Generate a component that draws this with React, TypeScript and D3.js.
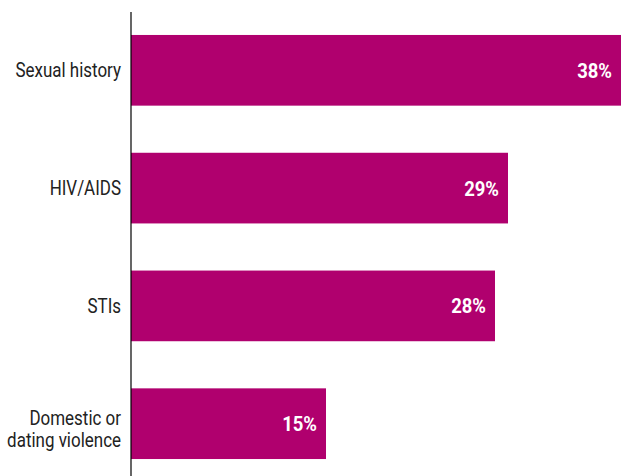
import React from "react";
import * as d3 from "d3";

const categories = ["Sexual history", "HIV/AIDS", "STIs", "Domestic or\ndating violence"];
const values = [38, 29, 28, 15];
const valueLabels = ["38%", "29%", "28%", "15%"];

const W = 621;
const H = 476;
const COLOR = "#B0006E";
const FONT = "Roboto, 'Liberation Sans', sans-serif";

export default function App() {
  const x = d3.scaleLinear().domain([0, 38]).range([131, 625]);
  const y = d3
    .scaleBand<number>()
    .domain(d3.range(categories.length))
    .range([12, 482])
    .paddingInner(0.4)
    .paddingOuter(0.195);
  const bw = y.bandwidth();

  return (
    <svg
      width={W}
      height={H}
      style={{ position: "absolute", left: 0, top: 0, background: "#fff" }}
    >
      {values.map((v, i) => {
        const y0 = y(i)!;
        const cy = y0 + bw / 2;
        const lines = categories[i].split("\n");
        const shift = lines.length > 1 ? 5 : 0;
        return (
          <g key={i}>
            <rect x={x(0)} y={y0} width={x(v) - x(0)} height={bw} fill={COLOR} />
            <g transform={`translate(${Math.min(x(v), W) - 9},${cy + 7.5}) scale(0.88,1)`}>
              <text
                x={0}
                y={0}
                textAnchor="end"
                fill="#fff"
                fontWeight="bold"
                fontSize={21}
                fontFamily={FONT}
              >
                {valueLabels[i]}
              </text>
            </g>
            <g transform={`translate(121,${cy + 7 + shift}) scale(0.87,1)`}>
              <text textAnchor="end" fill="#222" fontSize={19.5} fontFamily={FONT}>
                {lines.map((l, j) => (
                  <tspan key={j} x={0} y={(j - (lines.length - 1) / 2) * 22}>
                    {l}
                  </tspan>
                ))}
              </text>
            </g>
          </g>
        );
      })}
      <line x1={x(0)} x2={x(0)} y1={12} y2={H} stroke="#000" strokeWidth={1.2} />
    </svg>
  );
}
